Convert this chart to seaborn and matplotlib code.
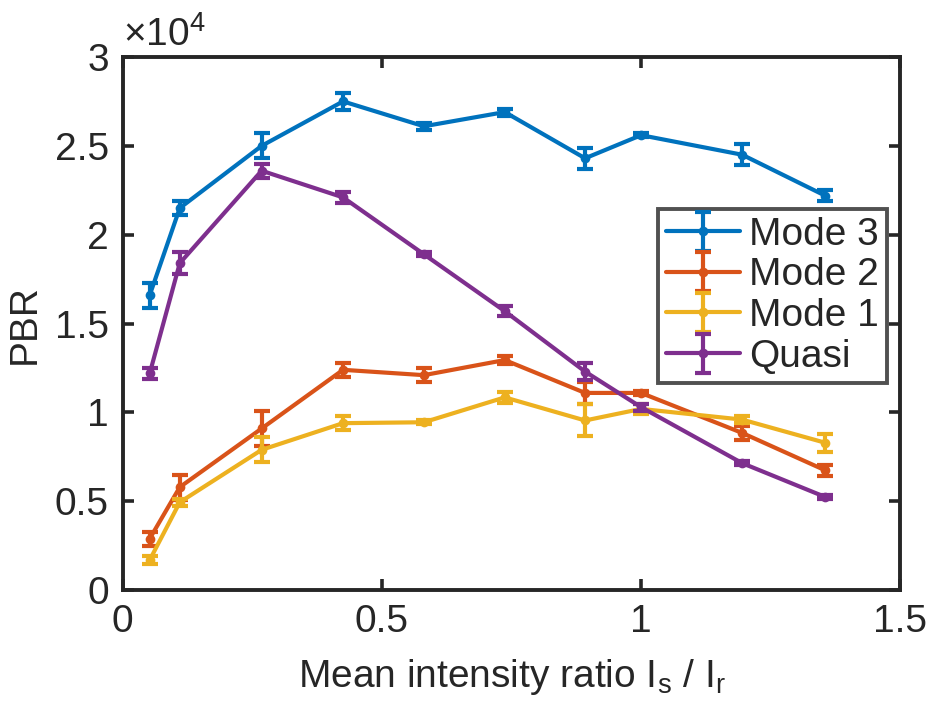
import matplotlib
matplotlib.use("Agg")
import matplotlib.pyplot as plt
import seaborn as sns
import pandas as pd

# data (PBR in units of 1e4)
ratio = [0.052, 0.110, 0.268, 0.425, 0.581, 0.737, 0.892, 1.000, 1.195, 1.355]
series = ["Mode 3", "Mode 2", "Mode 1", "Quasi"]
mode3 = [1.66, 2.15, 2.50, 2.75, 2.61, 2.69, 2.43, 2.56, 2.45, 2.22]
mode3_err = [0.07, 0.04, 0.07, 0.05, 0.02, 0.02, 0.06, 0.01, 0.06, 0.03]
mode2 = [0.29, 0.58, 0.91, 1.24, 1.21, 1.295, 1.11, 1.11, 0.885, 0.675]
mode2_err = [0.04, 0.07, 0.10, 0.04, 0.04, 0.02, 0.06, 0.01, 0.04, 0.03]
mode1 = [0.17, 0.495, 0.79, 0.94, 0.945, 1.085, 0.955, 1.02, 0.96, 0.83]
mode1_err = [0.02, 0.02, 0.07, 0.04, 0.01, 0.03, 0.09, 0.03, 0.02, 0.05]
quasi = [1.22, 1.84, 2.36, 2.21, 1.89, 1.57, 1.23, 1.03, 0.715, 0.525]
quasi_err = [0.03, 0.06, 0.04, 0.03, 0.01, 0.03, 0.05, 0.02, 0.01, 0.01]

values = [mode3, mode2, mode1, quasi]
errors = [mode3_err, mode2_err, mode1_err, quasi_err]
colors = ["#0072BD", "#D95319", "#EDB120", "#7E2F8E"]

sns.set_style("ticks")
plt.rcParams["font.family"] = ["Liberation Sans", "DejaVu Sans"]
plt.rcParams["mathtext.fontset"] = "custom"
plt.rcParams["mathtext.rm"] = "Liberation Sans"
plt.rcParams["mathtext.it"] = "Liberation Sans"

fs = 28
dark = "#262626"
fig = plt.figure(figsize=(9.3, 7.12), dpi=100)
ax = fig.add_axes([0.132, 0.171, 0.836, 0.749])

handles = []
for name, y, e, c in zip(series, values, errors, colors):
    df = pd.DataFrame({"ratio": ratio, "PBR": y})
    sns.lineplot(data=df, x="ratio", y="PBR", color=c, linewidth=3,
                 marker="o", markersize=7, markeredgewidth=0,
                 legend=False, ax=ax)
    line = ax.lines[-1]
    eb = ax.errorbar(ratio, y, yerr=e, fmt="none", ecolor=c, elinewidth=3,
                     capsize=6, capthick=3)
    handles.append((line, eb))

ax.set_xlim(0, 1.5)
ax.set_ylim(0, 3)
ax.set_xticks([0, 0.5, 1, 1.5])
ax.set_xticklabels(["0", "0.5", "1", "1.5"])
ax.set_yticks([0, 0.5, 1, 1.5, 2, 2.5, 3])
ax.set_yticklabels(["0", "0.5", "1", "1.5", "2", "2.5", "3"])
ax.tick_params(direction="in", top=True, right=True, length=8, width=2.6,
               labelsize=fs, colors=dark, pad=10)
for s in ax.spines.values():
    s.set_linewidth(2.8)
    s.set_color(dark)

ax.set_xlabel(r"Mean intensity ratio I$_\mathregular{s}$ / I$_\mathregular{r}$",
              fontsize=fs, color=dark)
ax.xaxis.set_label_coords(0.5, -0.125)
ax.set_ylabel("PBR", fontsize=fs, color=dark)
ax.yaxis.set_label_coords(-0.103, 0.5)
ax.text(0.0, 1.005, r"$\times$10$^\mathregular{4}$", transform=ax.transAxes,
        fontsize=fs, color=dark, ha="left", va="bottom")

leg = ax.legend(handles, series, loc="upper right",
                bbox_to_anchor=(0.983, 0.715), fontsize=fs,
                frameon=True, fancybox=False, handlelength=1.9,
                handletextpad=0.25, borderpad=0.2, labelspacing=0.12,
                borderaxespad=0)
leg.get_frame().set_edgecolor(dark)
leg.get_frame().set_linewidth(2.8)

fig.savefig("out.png", dpi=100)
